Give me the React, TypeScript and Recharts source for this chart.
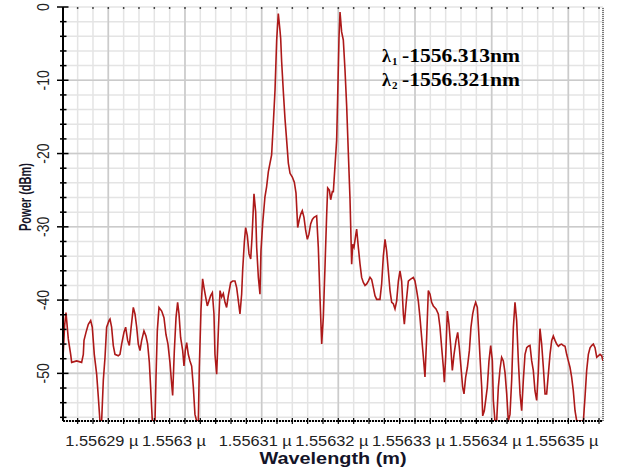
import React from 'react';
import { LineChart, Line, XAxis, YAxis, CartesianGrid, ReferenceLine } from 'recharts';

// Wavelength offset from 1556.28 nm, in picometres
const wavelengthPm = [
  4.09, 4.30, 4.48, 4.78, 5.09, 5.22, 5.87, 6.52, 6.74, 6.83, 7.09, 7.39, 7.70, 7.91, 8.17, 8.48, 8.70, 8.91, 9.13, 9.35,
  9.57, 9.78, 10.09, 10.22, 10.43, 10.65, 10.87, 11.30, 11.52, 11.74, 12.04, 12.26, 12.52, 12.74, 12.96, 13.26, 13.48, 13.70, 13.91, 14.13,
  14.35, 14.65, 14.91, 15.13, 15.35, 15.52, 15.74, 16.09, 16.22, 16.39, 16.61, 16.96, 17.26, 17.52, 17.78, 18.04, 18.22, 18.39, 18.61, 18.83,
  19.04, 19.22, 19.43, 19.70, 19.87, 20.04, 20.22, 20.43, 20.65, 20.87, 21.09, 21.30, 21.52, 21.74, 21.87, 22.09, 22.30, 22.48, 22.70, 22.91,
  23.13, 23.35, 23.57, 23.78, 23.91, 24.13, 24.35, 24.57, 24.78, 25.00, 25.22, 25.43, 25.65, 25.96, 26.22, 26.52, 26.74, 26.96, 27.17, 27.39,
  27.52, 27.74, 27.91, 28.13, 28.35, 28.57, 28.74, 29.00, 29.22, 29.35, 29.57, 29.78, 29.91, 30.13, 30.30, 30.43, 30.65, 30.87, 31.09, 31.30,
  31.52, 31.74, 31.96, 32.17, 32.39, 32.48, 32.61, 32.83, 33.04, 33.26, 33.48, 33.70, 34.00, 34.26, 34.48, 34.70, 34.91, 35.09, 35.30, 35.52,
  35.74, 35.96, 36.17, 36.39, 36.61, 36.83, 37.17, 37.39, 37.61, 37.83, 38.04, 38.26, 38.48, 38.61, 38.83, 39.00, 39.22, 39.35, 39.57, 39.78,
  39.91, 40.09, 40.22, 40.43, 40.65, 40.87, 41.09, 41.30, 41.52, 41.74, 41.87, 42.04, 42.26, 42.39, 42.61, 42.83, 43.04, 43.26, 43.48, 43.70,
  43.91, 44.13, 44.35, 44.57, 44.78, 45.00, 45.43, 45.65, 45.87, 46.09, 46.30, 46.52, 46.74, 46.96, 47.17, 47.39, 47.61, 47.83, 48.04, 48.26,
  48.48, 48.61, 48.83, 49.13, 49.35, 49.78, 50.00, 50.22, 50.43, 50.65, 50.87, 51.09, 51.30, 51.52, 51.74, 51.96, 52.17, 52.39, 52.74, 53.04,
  53.26, 53.48, 53.70, 53.83, 54.00, 54.22, 54.43, 54.65, 54.87, 55.09, 55.35, 55.57, 55.78, 56.00, 56.22, 56.39, 56.61, 56.83, 57.09, 57.30,
  57.52, 57.70, 57.91, 58.13, 58.30, 58.48, 58.70, 58.83, 59.04, 59.26, 59.43, 59.65, 59.87, 60.09, 60.22, 60.43, 60.65, 60.87, 61.09, 61.30,
  61.52, 61.74, 61.96, 62.17, 62.39, 62.61, 62.83, 63.04, 63.26, 63.48, 63.70, 63.91, 64.13, 64.35, 64.57, 64.78, 65.00, 65.22, 65.43, 65.65,
  65.87, 66.09, 66.30, 66.52, 66.74, 66.96, 67.17, 67.39, 67.61, 67.83, 68.04, 68.26, 68.48, 68.70, 68.91, 69.13, 69.35, 69.57, 69.78, 70.00,
  70.22, 70.43, 70.65, 70.87, 71.09, 71.96, 72.17, 72.39, 72.61, 72.83, 73.04, 73.26, 73.48, 73.70, 73.91, 74.13, 74.35, 74.52,
];

const powerDbm = [
  -47.8, -43.5, -41.7, -45.3, -47.4, -48.5, -48.3, -48.5, -47.4, -45.5, -44.4, -43.3, -42.8, -43.7, -47.4, -50.1, -53.3, -56.5, -56.5, -50.9,
  -47.8, -43.7, -42.8, -42.6, -43.7, -46.2, -47.4, -47.6, -47.4, -46.0, -44.4, -43.7, -45.5, -46.2, -43.9, -41.0, -41.9, -43.7, -46.0, -46.9,
  -45.5, -44.2, -44.9, -46.0, -48.5, -51.9, -56.5, -56.5, -50.5, -44.2, -41.0, -41.5, -42.4, -44.7, -46.0, -48.5, -50.9, -53.0, -46.9, -42.4,
  -40.3, -41.9, -45.1, -46.9, -49.0, -46.9, -45.8, -47.4, -48.3, -49.0, -51.9, -55.6, -56.5, -56.5, -49.2, -41.2, -37.1, -38.3, -39.6, -40.8,
  -40.1, -39.4, -39.0, -41.9, -47.4, -50.1, -44.2, -38.7, -39.6, -39.1, -40.3, -41.0, -39.4, -37.6, -37.4, -37.4, -38.3, -40.1, -41.9, -39.2,
  -36.0, -32.1, -30.1, -31.2, -33.7, -34.4, -31.5, -25.5, -28.0, -32.8, -36.9, -39.2, -33.3, -29.6, -27.5, -25.9, -24.5, -22.5, -21.3, -20.2,
  -15.9, -11.4, -4.5, -0.9, -3.2, -4.3, -7.5, -11.6, -15.2, -18.2, -21.3, -22.7, -23.2, -23.9, -25.4, -30.1, -29.0, -28.3, -27.8, -28.7,
  -30.5, -31.7, -31.0, -29.6, -29.0, -28.7, -28.5, -32.8, -39.7, -46.0, -42.4, -35.5, -28.3, -24.7, -25.0, -26.3, -25.2, -25.2, -21.6, -18.2,
  -12.5, -4.1, -0.7, -3.4, -4.5, -8.6, -13.6, -19.8, -26.1, -35.1, -32.4, -32.8, -31.2, -30.3, -32.8, -35.1, -36.9, -37.6, -38.0, -37.8,
  -37.4, -36.9, -37.2, -38.3, -39.4, -39.9, -39.9, -37.8, -34.0, -31.7, -33.3, -36.0, -38.7, -40.3, -40.5, -41.2, -40.1, -37.4, -36.0, -37.4,
  -41.9, -43.3, -40.6, -37.4, -37.2, -36.9, -37.4, -38.7, -40.1, -42.4, -45.1, -47.8, -50.5, -45.1, -38.7, -39.2, -40.3, -40.8, -41.2, -41.9,
  -43.7, -46.5, -49.2, -51.2, -47.8, -41.5, -43.3, -46.2, -49.6, -47.4, -45.5, -44.4, -46.5, -49.2, -51.9, -52.8, -50.5, -49.2, -46.9, -43.7,
  -41.9, -41.0, -40.3, -41.0, -44.2, -47.8, -51.9, -55.8, -55.1, -53.3, -51.9, -48.3, -46.2, -48.3, -53.7, -56.5, -56.5, -51.9, -49.4, -47.8,
  -48.3, -49.9, -52.8, -56.5, -55.6, -50.9, -43.7, -40.3, -42.8, -48.3, -52.8, -55.1, -50.9, -47.4, -46.5, -46.3, -46.2, -48.3, -49.6, -52.4,
  -53.7, -49.6, -43.9, -46.0, -49.2, -52.8, -52.8, -50.1, -47.4, -45.5, -44.9, -45.5, -46.0, -46.3, -46.1, -46.0, -46.2, -46.3, -47.4, -48.3,
  -49.2, -50.5, -52.4, -55.1, -56.5, -56.5, -53.3, -49.6, -47.4, -46.5, -46.2, -46.0, -46.5, -47.8, -47.6, -47.4, -47.6, -48.3,
];

const xMinorTicks = [6, 8, 10, 12, 14, 16, 18, 20, 22, 24, 26, 28, 30, 32, 34, 36, 38, 40, 42, 44, 46, 48, 50, 52, 54, 56, 58, 60, 62, 64, 66, 68, 70, 72, 74];
const xMajorTicks = [10, 20, 30, 40, 50, 60, 70];
const xTickLabels = ['1.55629 µ', '1.5563 µ', '1.55631 µ', '1.55632 µ', '1.55633 µ', '1.55634 µ', '1.55635 µ'];

const yMinorTicks = [0, -2, -4, -6, -8, -10, -12, -14, -16, -18, -20, -22, -24, -26, -28, -30, -32, -34, -36, -38, -40, -42, -44, -46, -48, -50, -52, -54, -56];
const yMajorTicks = [0, -10, -20, -30, -40, -50];
const yTickLabels = ['0', '-10', '-20', '-30', '-40', '-50'];

const annotationLines = [
  { sub: '1', text: '-1556.313nm' },
  { sub: '2', text: '-1556.321nm' },
];

const X_DOMAIN: [number, number] = [4.09, 74.52];
const Y_DOMAIN: [number, number] = [-56.5, 0];

const data = wavelengthPm.map((w, i) => ({ w, p: powerDbm[i] }));

const SANS = 'Liberation Sans, Arial, sans-serif';
const SERIF = 'Liberation Serif, Times New Roman, serif';

const XTick = (props: any) => {
  const { x, payload } = props;
  const idx = xMajorTicks.indexOf(payload.value);
  return (
    <g>
      <line x1={x} x2={x} y1={418} y2={424} stroke="#000" strokeWidth={1.2} />
      <circle cx={x} cy={8} r={0.9} fill="#333" />
      {idx >= 0 && (
        <text
          transform={`translate(${x - 43},446) scale(1.17,1)`}
          fontSize={14}
          fill="#222"
          fontFamily={SANS}
        >
          {xTickLabels[idx]}
        </text>
      )}
    </g>
  );
};

const YTick = (props: any) => {
  const { y, payload } = props;
  const idx = yMajorTicks.indexOf(payload.value);
  const major = idx >= 0;
  return (
    <g>
      <line x1={major ? 57 : 60} x2={major ? 68.5 : 66.5} y1={y} y2={y} stroke="#000" strokeWidth={1.5} />
      {major && (
        <text
          transform={`translate(48.5,${y}) scale(1.17,1) rotate(-90)`}
          textAnchor="middle"
          fontSize={14}
          fill="#222"
          fontFamily={SANS}
        >
          {yTickLabels[idx]}
        </text>
      )}
    </g>
  );
};

const renderXTitle = () => (
  <g>
    <text
      x={333}
      y={464}
      textAnchor="middle"
      fontSize={17}
      fontWeight="bold"
      fill="#141428"
      fontFamily={SANS}
      textLength={147}
      lengthAdjust="spacingAndGlyphs"
    >
      Wavelength (m)
    </text>
    {annotationLines.map((l, i) => (
      <g key={i}>
        <text x={382} y={62 + i * 24} fontSize={18} fontWeight="bold" fill="#000" fontFamily={SERIF}>
          λ
        </text>
        <text x={392} y={65 + i * 24} fontSize={11} fontWeight="bold" fill="#000" fontFamily={SERIF}>
          {l.sub}
        </text>
        <text
          x={402}
          y={62 + i * 24}
          fontSize={18}
          fontWeight="bold"
          fill="#000"
          fontFamily={SERIF}
          textLength={118}
          lengthAdjust="spacingAndGlyphs"
        >
          {l.text}
        </text>
      </g>
    ))}
  </g>
);

const renderYTitle = () => (
  <text
    transform="translate(31,197) scale(1.2,1) rotate(-90)"
    textAnchor="middle"
    fontSize={14}
    fontWeight="bold"
    fill="#141428"
    fontFamily={SANS}
    textLength={68}
    lengthAdjust="spacingAndGlyphs"
  >
    Power (dBm)
  </text>
);

export default function App() {
  return (
    <div style={{ position: 'absolute', left: 0, top: 0, width: 618, height: 470, background: '#fff' }}>
      <LineChart width={618} height={470} data={data} margin={{ top: 7, right: 15, bottom: 0, left: 0 }}>
        <CartesianGrid stroke="#e4e4e4" strokeWidth={1.5} />
        {xMajorTicks.map((v) => (
          <ReferenceLine key={'x' + v} x={v} stroke="#cbcbcb" strokeWidth={1.6} />
        ))}
        {yMajorTicks.slice(1).map((v) => (
          <ReferenceLine key={'y' + v} y={v} stroke="#cbcbcb" strokeWidth={1.6} />
        ))}
        <ReferenceLine x={X_DOMAIN[1]} stroke="#555" strokeWidth={1.5} strokeDasharray="1 1" />
        <XAxis
          dataKey="w"
          type="number"
          domain={X_DOMAIN}
          ticks={xMinorTicks}
          interval={0}
          allowDataOverflow
          height={49}
          tickLine={false}
          axisLine={{ stroke: '#000', strokeWidth: 2, strokeDasharray: '2 1' }}
          tick={<XTick />}
          label={renderXTitle}
        />
        <YAxis
          type="number"
          domain={Y_DOMAIN}
          ticks={yMinorTicks}
          interval={0}
          allowDataOverflow
          width={63}
          tickLine={false}
          axisLine={{ stroke: '#000', strokeWidth: 2 }}
          tick={<YTick />}
          label={renderYTitle}
        />
        <Line
          type="linear"
          dataKey="p"
          stroke="#ad1919"
          strokeWidth={1.6}
          dot={false}
          isAnimationActive={false}
        />
      </LineChart>
    </div>
  );
}
